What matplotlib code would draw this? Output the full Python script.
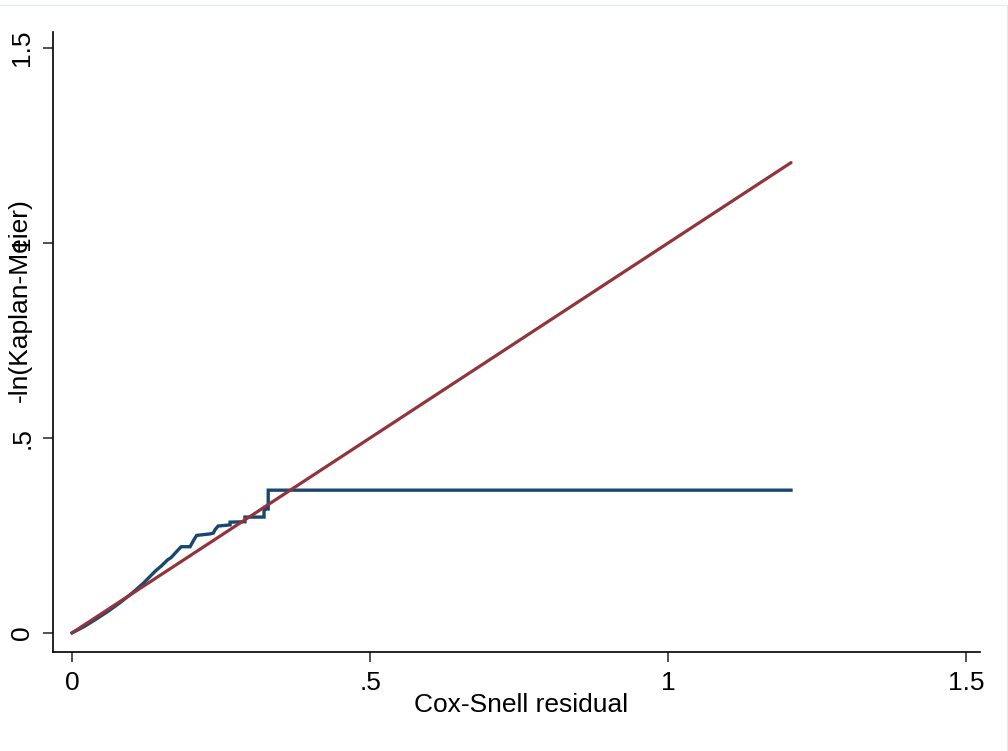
import numpy as np
import matplotlib
matplotlib.use("Agg")
import matplotlib.pyplot as plt
from matplotlib.patches import Rectangle

# -ln(KM) of the Cox-Snell residuals, given as path vertices (steps written out)
cs_resid = [0.000, 0.010, 0.020, 0.040, 0.060, 0.080, 0.100, 0.120, 0.140,
            0.150, 0.160, 0.166, 0.175, 0.183, 0.198, 0.204, 0.209, 0.232,
            0.237, 0.240, 0.245, 0.265, 0.265, 0.290, 0.290, 0.322, 0.322,
            0.327, 0.329, 0.329, 1.206]
neg_ln_km = [0.000, 0.008, 0.016, 0.035, 0.055, 0.077, 0.101, 0.128, 0.159,
             0.172, 0.187, 0.193, 0.208, 0.221, 0.221, 0.238, 0.250, 0.254,
             0.256, 0.265, 0.274, 0.277, 0.284, 0.285, 0.297, 0.297, 0.315,
             0.318, 0.318, 0.366, 0.366]

# reference line: cumulative hazard = residual
ref_x = [0.0, 1.206]
ref_y = [0.0, 1.206]

xticks = [0, 0.5, 1, 1.5]
xtick_labels = ["0", ".5", "1", "1.5"]
yticks = [0, 0.5, 1, 1.5]
ytick_labels = ["0", ".5", "1", "1.5"]

navy = "#1a476f"
maroon = "#90353b"

plt.rcParams["font.family"] = ["Liberation Sans", "DejaVu Sans"]

fig = plt.figure(figsize=(10.08, 7.51), dpi=100)
W, H = 1008, 751
ax = fig.add_axes([53 / W, 99 / H, (980 - 53) / W, (652 - 32) / H])

ax.plot(cs_resid, neg_ln_km, color=navy, lw=2.4, solid_joinstyle="miter")
ax.plot(ref_x, ref_y, color=maroon, lw=2.3, solid_capstyle="round")

ax.set_xlim(-0.032, 1.523)
ax.set_ylim(-0.049, 1.541)

ax.set_xticks(xticks)
ax.set_xticklabels(xtick_labels)
ax.set_yticks(yticks)
ax.set_yticklabels(ytick_labels, rotation=90, va="center")

ax.tick_params(axis="both", direction="out", length=7.5, width=1.1,
               labelsize=19, color="#222222")
ax.tick_params(axis="x", pad=6)
ax.tick_params(axis="y", pad=6)

for side in ["top", "right"]:
    ax.spines[side].set_visible(False)
for side in ["left", "bottom"]:
    ax.spines[side].set_linewidth(1.2)
    ax.spines[side].set_color("black")

ax.set_xlabel("Cox-Snell residual", fontsize=19)
ax.xaxis.set_label_coords((521 - 53) / (980 - 53), -(705 - 652) / (652 - 32))
ax.xaxis.label.set_va("center")
ax.set_ylabel("-ln(Kaplan-Meier)", fontsize=19)
ax.yaxis.set_label_coords(-(53 - 20) / (980 - 53), (652 - 300) / (652 - 32))
ax.yaxis.label.set_va("center")

# faint outer border of the graph region
fig.patches.append(Rectangle((-2 / W, -2 / H), 1008.5 / W, 748 / H,
                             transform=fig.transFigure, fill=False,
                             edgecolor="#e4ecf0", lw=1.0))

fig.savefig("out.png", dpi=100)
